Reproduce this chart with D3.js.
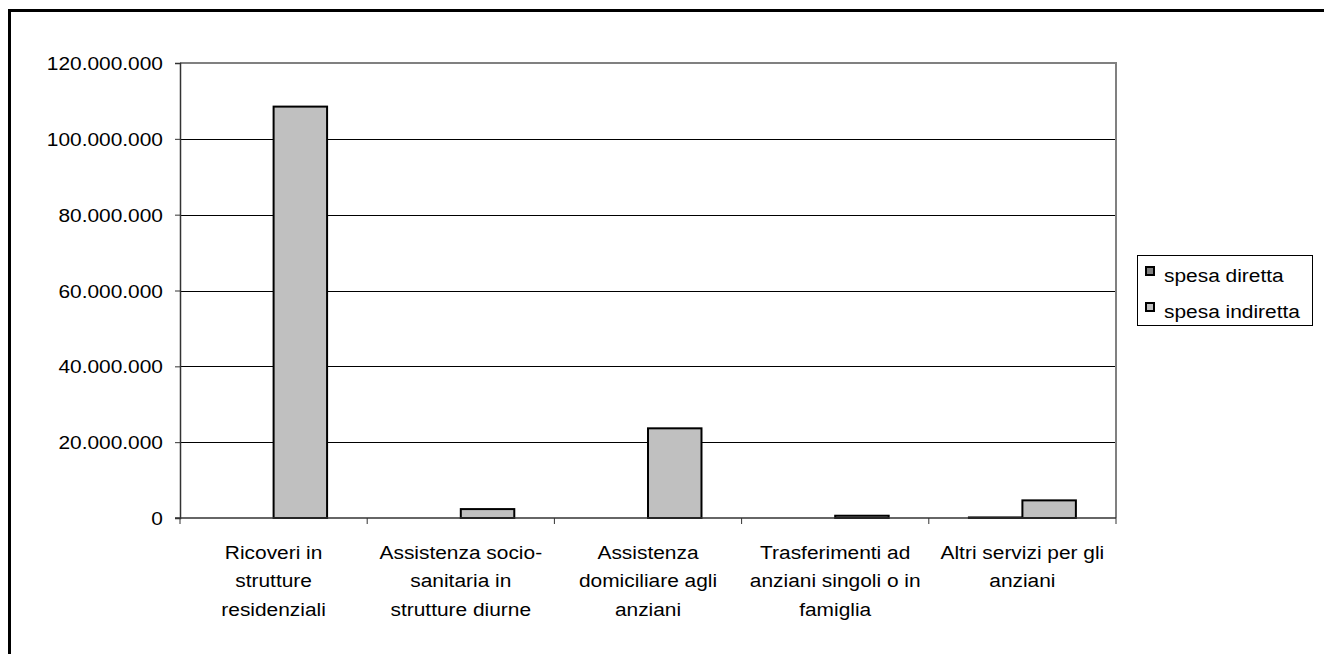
<!DOCTYPE html>
<html><head><meta charset="utf-8">
<script src="https://cdn.jsdelivr.net/npm/d3@7"></script>
<style>
html,body{margin:0;padding:0;background:#fff;}
svg text{font-family:"Liberation Sans",Arial,sans-serif;fill:#000;}
</style></head>
<body>
<svg id="chart" width="1324" height="654"></svg>
<script>
const categories = [
  ["Ricoveri in", "strutture", "residenziali"],
  ["Assistenza socio-", "sanitaria in", "strutture diurne"],
  ["Assistenza", "domiciliare agli", "anziani"],
  ["Trasferimenti ad", "anziani singoli o in", "famiglia"],
  ["Altri servizi per gli", "anziani"]
];
const seriesNames = ["spesa diretta", "spesa indiretta"];
const spesaDiretta = [0, 0, 0, 0, 150000];
const spesaIndiretta = [108500000, 2350000, 23650000, 600000, 4650000];
const yTicks = [0, 20000000, 40000000, 60000000, 80000000, 100000000, 120000000];
const seriesColors = ["#808080", "#C0C0C0"];

const svg = d3.select("#chart");
const plot = {left: 180, right: 1116, top: 63, bottom: 518};
const FS = 19;
const SX = 1.1; // horizontal stretch of text as in reference

// outer frame (extends past right/bottom edge)
svg.append("rect").attr("x", 9.5).attr("y", 10.5).attr("width", 1330).attr("height", 660)
  .attr("fill", "none").attr("stroke", "#000").attr("stroke-width", 3);

const catKeys = categories.map((c, i) => i);
const x = d3.scaleBand().domain(catKeys).range([plot.left, plot.right]).paddingInner(0).paddingOuter(0);
const xs = d3.scaleBand().domain(seriesNames).range([0, x.bandwidth()]).paddingInner(0).paddingOuter(0.75);
const y = d3.scaleLinear().domain([0, 120000000]).range([plot.bottom, plot.top]);

const loc = d3.formatLocale({decimal: ",", thousands: ".", grouping: [3], currency: ["", ""]});
const fmt = loc.format(",d");

// gridlines
svg.append("g").selectAll("line").data(yTicks.filter(d => d > 0 && d < 120000000)).join("line")
  .attr("x1", plot.left).attr("x2", plot.right)
  .attr("y1", d => Math.round(y(d)) + 0.5).attr("y2", d => Math.round(y(d)) + 0.5)
  .attr("stroke", "#000").attr("stroke-width", 1);

// plot top & right border (gray)
svg.append("line").attr("x1", plot.left).attr("x2", plot.right + 1).attr("y1", plot.top).attr("y2", plot.top)
  .attr("stroke", "#808080").attr("stroke-width", 2);
svg.append("line").attr("x1", plot.right).attr("x2", plot.right).attr("y1", plot.top).attr("y2", plot.bottom)
  .attr("stroke", "#808080").attr("stroke-width", 2);

// bars
const rows = catKeys.map(i => ({i, vals: [spesaDiretta[i], spesaIndiretta[i]]}));
const g = svg.append("g");
rows.forEach(r => {
  r.vals.forEach((v, k) => {
    if (v <= 0) return;
    const x0 = x(r.i) + xs(seriesNames[k]);
    g.append("rect")
      .attr("x", x0).attr("width", xs.bandwidth())
      .attr("y", y(v)).attr("height", Math.max(0, y(0) - y(v)))
      .attr("fill", seriesColors[k]).attr("stroke", "#000").attr("stroke-width", 2);
  });
});

// y axis
const yAxis = d3.axisLeft(y).tickValues(yTicks).tickFormat(fmt).tickSize(5).tickPadding(12);
const ya = svg.append("g").attr("transform", `translate(${plot.left},0)`).call(yAxis);
ya.select(".domain").attr("stroke", "#333").attr("stroke-width", 1.5);
ya.selectAll(".tick line").attr("stroke", "#333");
ya.selectAll(".tick text")
  .attr("font-size", FS).attr("font-family", "Liberation Sans, Arial, sans-serif").attr("fill", "#000")
  .attr("x", null).attr("dy", null).attr("dominant-baseline", "central")
  .attr("transform", `translate(-17,0) scale(${SX},1)`);

// x axis
const xa = svg.append("g").attr("transform", `translate(0,${plot.bottom})`);
xa.append("line").attr("x1", plot.left - 5).attr("x2", plot.right).attr("y1", 0).attr("y2", 0)
  .attr("stroke", "#333").attr("stroke-width", 1.5);
const bounds = catKeys.map(i => x(i)).concat([plot.right]);
xa.selectAll("line.tk").data(bounds).join("line").attr("class", "tk")
  .attr("x1", d => d).attr("x2", d => d).attr("y1", 0).attr("y2", 6).attr("stroke", "#333");
const lbl = xa.selectAll("text.cat").data(catKeys).join("text").attr("class", "cat")
  .attr("text-anchor", "middle").attr("font-size", FS)
  .attr("transform", d => `translate(${x(d) + x.bandwidth() / 2},0) scale(${SX},1)`);
lbl.selectAll("tspan").data(d => categories[d]).join("tspan")
  .attr("x", 0).attr("y", (d, j) => 41 + j * 28.5).text(d => d);

// legend
const lg = svg.append("g").attr("transform", "translate(1137,255)");
lg.append("rect").attr("x", 0.5).attr("y", 0.5).attr("width", 175).attr("height", 70)
  .attr("fill", "#fff").attr("stroke", "#000").attr("stroke-width", 1);
seriesNames.forEach((s, k) => {
  const yy = 21 + k * 36;
  lg.append("rect").attr("x", 9).attr("y", yy - 9).attr("width", 8).attr("height", 8)
    .attr("fill", seriesColors[k]).attr("stroke", "#000").attr("stroke-width", 2);
  lg.append("text").attr("transform", `translate(27,${yy + 6}) scale(${SX},1)`)
    .attr("font-size", FS).text(s);
});
</script>
</body></html>
